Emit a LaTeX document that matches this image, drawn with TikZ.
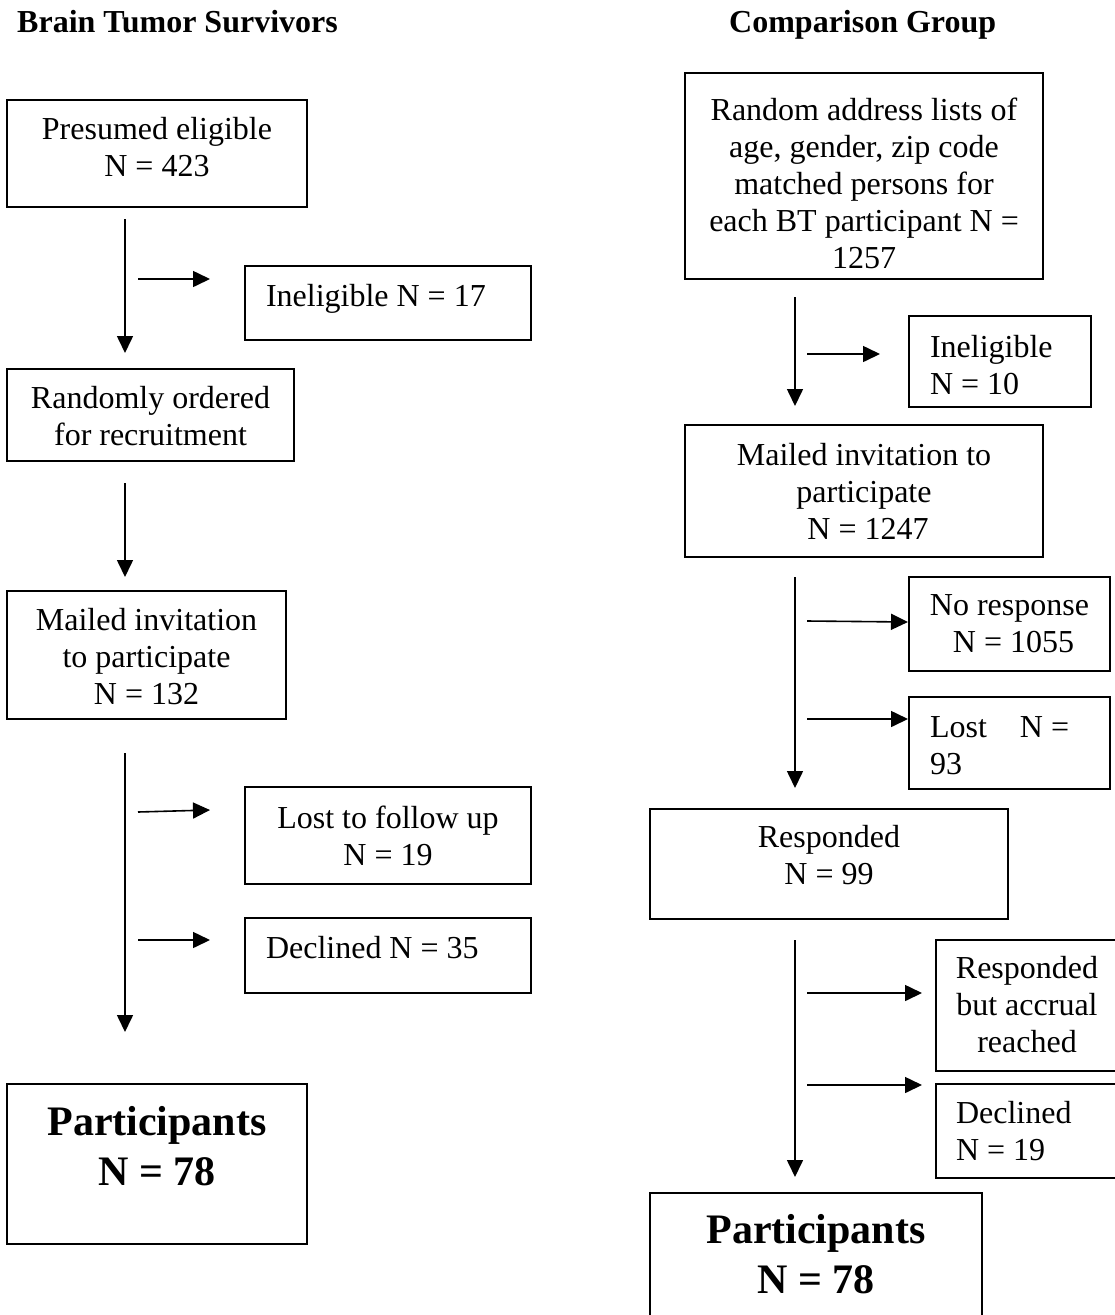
\documentclass[tikz,border=0pt]{standalone}
\usepackage{fontspec}
\setmainfont{Liberation Serif}
\usetikzlibrary{arrows.meta}
\newcommand{\boxc}[4]{\parbox[c][#2][t]{#1}{\centering\rule{0pt}{#3}#4}}
\newcommand{\boxl}[5]{\parbox[c][#2][t]{#1}{\raggedright\leftskip=#4\relax\rule{0pt}{#3}#5}}
\tikzset{
  flowbox/.style={draw, line width=1.8pt, inner sep=0pt, outer sep=0pt, anchor=north west,
    font=\fontsize{32}{37}\selectfont},
  bigbox/.style={flowbox, font=\bfseries\fontsize{42}{50}\selectfont},
  headtxt/.style={anchor=base west, inner sep=0pt, font=\bfseries\fontsize{32}{37}\selectfont},
  arr/.style={line width=1.6pt, -{Triangle[length=17pt,width=16pt]}}
}
\begin{document}
\begin{tikzpicture}[x=1pt,y=-1pt]
\useasboundingbox (0,0) rectangle (1115,1315);
\fill[white] (0,0) rectangle (1115,1315);
\clip (0,0) rectangle (1115,1315);

% headings
\node[headtxt] (hL) at (17,32) {Brain Tumor Survivors};
\node[headtxt] (hR) at (729,32) {Comparison Group};

% ---------- left column ----------
\node[flowbox] (L1) at (7,100) {\boxc{300pt}{107pt}{39pt}{Presumed eligible\\N = 423}};
\node[flowbox] (Linel) at (245,266) {\boxl{286pt}{74pt}{40pt}{21pt}{Ineligible N = 17}};
\node[flowbox] (L2) at (7,369) {\boxc{287pt}{92pt}{39pt}{Randomly ordered\\for recruitment}};
\node[flowbox] (L3) at (7,591) {\boxc{279pt}{128pt}{39pt}{Mailed invitation\\to participate\\N = 132}};
\node[flowbox] (Llost) at (245,787) {\boxc{286pt}{97pt}{41pt}{Lost to follow up\\N = 19}};
\node[flowbox] (Ldecl) at (245,918) {\boxl{286pt}{75pt}{40pt}{21pt}{Declined N = 35}};
\node[bigbox] (L4) at (7,1084) {\boxc{300pt}{160pt}{51pt}{Participants\\N = 78}};

\coordinate (lv1s) at (125,219);  \coordinate (lv1e) at (125,353);
\coordinate (lh1s) at (138,279);  \coordinate (lh1e) at (210,279);
\coordinate (lv2s) at (125,483);  \coordinate (lv2e) at (125,577);
\coordinate (lv3s) at (125,753);  \coordinate (lv3e) at (125,1032);
\coordinate (lh2s) at (138,812);  \coordinate (lh2e) at (210,810);
\coordinate (lh3s) at (138,940);  \coordinate (lh3e) at (210,940);
\draw[arr] (lv1s) -- (lv1e);
\draw[arr] (lh1s) -- (lh1e);
\draw[arr] (lv2s) -- (lv2e);
\draw[arr] (lv3s) -- (lv3e);
\draw[arr] (lh2s) -- (lh2e);
\draw[arr] (lh3s) -- (lh3e);

% ---------- right column ----------
\node[flowbox] (R1) at (685,73) {\boxc{358pt}{206pt}{47pt}{Random address lists of\\age, gender, zip code\\matched persons for\\each BT participant N =\\1257}};
\node[flowbox] (Rinel) at (909,316) {\boxl{182pt}{91pt}{41pt}{21pt}{Ineligible\\N = 10}};
\node[flowbox] (R2) at (685,425) {\boxc{358pt}{132pt}{40pt}{Mailed invitation to\\participate\\\hspace*{8pt}N = 1247}};
\node[flowbox] (Rnore) at (909,577) {\boxc{201pt}{94pt}{38pt}{No response\\\hspace*{8pt}N = 1055}};
\node[flowbox] (Rlost) at (909,697) {\boxl{201pt}{92pt}{40pt}{21pt}{Lost\hspace{33pt}N =\\93}};
\node[flowbox] (R3) at (650,809) {\boxc{358pt}{110pt}{38pt}{Responded\\N = 99}};
\node[flowbox] (Racc) at (936,940) {\boxc{182pt}{131pt}{38pt}{Responded\\but accrual\\reached}};
\node[flowbox] (Rdecl) at (936,1084) {\boxl{182pt}{94pt}{39pt}{20pt}{Declined\\N = 19}};
\node[bigbox] (R4) at (650,1193) {\boxc{332pt}{160pt}{50pt}{Participants\\N = 78}};

\coordinate (rv1s) at (795,297);  \coordinate (rv1e) at (795,406);
\coordinate (rh1s) at (807,354);  \coordinate (rh1e) at (880,354);
\coordinate (rv2s) at (795,577);  \coordinate (rv2e) at (795,788);
\coordinate (rh2s) at (807,621);  \coordinate (rh2e) at (908,622);
\coordinate (rh3s) at (807,719);  \coordinate (rh3e) at (908,719);
\coordinate (rv3s) at (795,940);  \coordinate (rv3e) at (795,1177);
\coordinate (rh4s) at (807,993);  \coordinate (rh4e) at (922,993);
\coordinate (rh5s) at (807,1085); \coordinate (rh5e) at (922,1085);
\draw[arr] (rv1s) -- (rv1e);
\draw[arr] (rh1s) -- (rh1e);
\draw[arr] (rv2s) -- (rv2e);
\draw[arr] (rh2s) -- (rh2e);
\draw[arr] (rh3s) -- (rh3e);
\draw[arr] (rv3s) -- (rv3e);
\draw[arr] (rh4s) -- (rh4e);
\draw[arr] (rh5s) -- (rh5e);
\end{tikzpicture}
\end{document}
